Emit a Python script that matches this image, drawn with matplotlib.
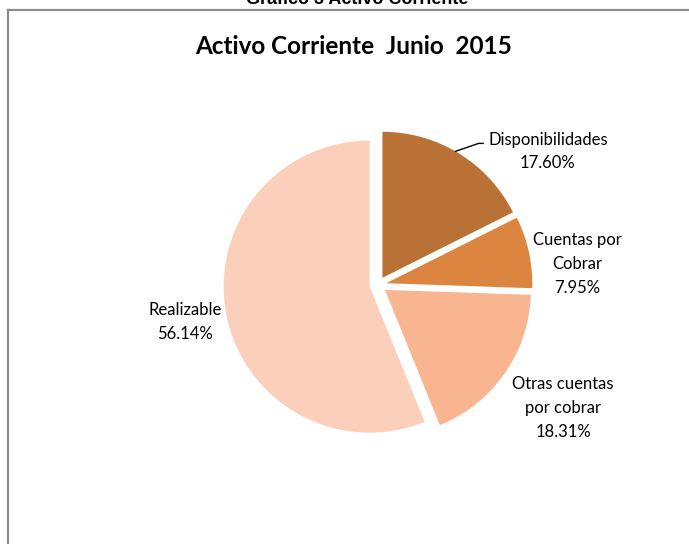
import numpy as np
import matplotlib.pyplot as plt
from matplotlib.lines import Line2D

# data
categories = ["Disponibilidades", "Cuentas por\nCobrar", "Otras cuentas\npor cobrar", "Realizable"]
shares = [17.60, 7.95, 18.31, 56.14]
colors = ["#BA7135", "#DC8540", "#F8B58F", "#FBCFB9"]

# label positions (axes data units, radius = 1)
label_pos = [(1.164, 0.915), (1.363, 0.144), (1.267, -0.842), (-1.322, -0.253)]

plt.rcParams["font.family"] = ["Lato", "DejaVu Sans"]

W, H = 689, 544
fig = plt.figure(figsize=(W / 100, H / 100), dpi=100)

# chart frame (cropped, like the source screenshot)
gray = "#8C8C8C"
fx, fy = 8 / W, 1 - 10 / H
fig.add_artist(Line2D([fx, fx], [0, fy], color=gray, lw=1.6, transform=fig.transFigure))
fig.add_artist(Line2D([fx, 1], [fy, fy], color=gray, lw=1.6, transform=fig.transFigure))

# cut-off caption above the frame
fig.text(357 / W, 1 - 4 / H, "Gráfico 3 Activo Corriente", ha="center", va="baseline",
         fontsize=13, fontweight="bold", family="Liberation Sans")

fig.text(354 / W, 1 - 47 / H, "Activo Corriente  Junio  2015", ha="center", va="center",
         fontsize=17.5, fontweight="bold")

# axes centred on the pie
cx, cy, rpx = 378, 285, 146
half = 200
ax = fig.add_axes([(cx - half) / W, (H - cy - half) / H, 2 * half / W, 2 * half / H])

wedges, _ = ax.pie(shares, colors=colors, startangle=90, counterclock=False,
                   explode=[0.058] * len(shares), radius=1.0,
                   wedgeprops=dict(linewidth=0))
lim = half / rpx
ax.set_xlim(-lim, lim)
ax.set_ylim(-lim, lim)
ax.set_aspect("equal")
ax.axis("off")

for cat, val, (lx, ly) in zip(categories, shares, label_pos):
    ax.text(lx, ly, f"{cat}\n{val:.2f}%", ha="center", va="center",
            fontsize=12, linespacing=1.6, color="#000000")

# leader line for Disponibilidades
w = wedges[0]
ang = np.deg2rad(60)
x0 = w.center[0] + w.r * np.cos(ang)
y0 = w.center[1] + w.r * np.sin(ang)
ax.plot([x0, 0.69, 0.72], [y0, 0.97, 0.97], color="black", lw=1.0)

fig.savefig("out.png", dpi=100)
